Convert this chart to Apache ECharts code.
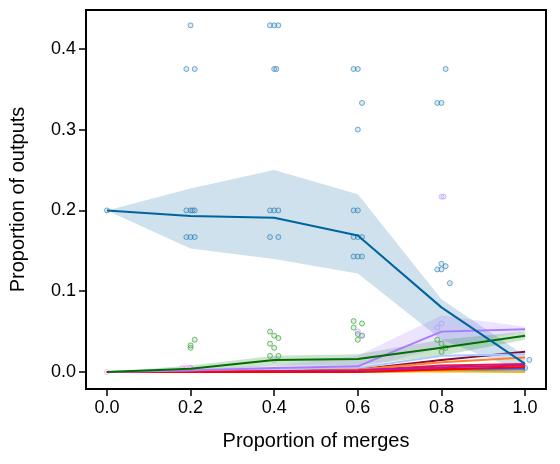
<!DOCTYPE html><html><head><meta charset="utf-8">
<script src="https://cdn.jsdelivr.net/npm/echarts@6/dist/echarts.min.js"></script>
<style>html,body{margin:0;background:#fff}#c{width:560px;height:464px}</style></head><body><div id="c"></div>
<script>
const xs=[0,0.2,0.4,0.6,0.8,1.0];
const blueMean=[0.2,0.193,0.191,0.169,0.08,0.01];
const blueLow=[0.2,0.153,0.14,0.122,0.04,0.0];
const blueHigh=[0.2,0.227,0.25,0.22,0.09,0.02];
const bluePts=[[0,0.2],[0.2,0.429],[0.19,0.375],[0.21,0.375],[0.19,0.2],[0.2,0.2],[0.205,0.2],[0.21,0.2],[0.19,0.167],[0.2,0.167],[0.21,0.167],
[0.39,0.429],[0.4,0.429],[0.41,0.429],[0.4,0.375],[0.405,0.375],[0.39,0.2],[0.4,0.2],[0.41,0.2],[0.39,0.167],[0.41,0.167],
[0.59,0.375],[0.6,0.375],[0.61,0.333],[0.6,0.3],[0.59,0.2],[0.6,0.2],[0.59,0.167],[0.6,0.167],[0.61,0.167],[0.59,0.143],[0.6,0.143],[0.61,0.143],
[0.81,0.375],[0.79,0.333],[0.8,0.333],[0.8,0.134],[0.81,0.131],[0.79,0.127],[0.8,0.127],[0.82,0.11],[1.0,0.005],[1.01,0.015]];
const greenMean=[0,0.004,0.015,0.016,0.03,0.045];
const greenLow=[0,0.0,0.008,0.008,0.02,0.04];
const greenHigh=[0,0.008,0.02,0.022,0.04,0.05];
const greenPts=[[0.21,0.04],[0.2,0.03],[0.2,0.033],[0.39,0.05],[0.4,0.045],[0.41,0.042],[0.39,0.035],[0.4,0.03],[0.41,0.02],[0.39,0.02],[0.59,0.063],[0.61,0.06],[0.59,0.055],[0.6,0.047],[0.61,0.045],[0.6,0.04],[0.79,0.04],[0.8,0.035],[0.81,0.03],[0.8,0.025]];
const purpleMean=[0,0.002,0.005,0.007,0.05,0.053];
const purpleLow=[0,0.0,0.002,0.003,0.03,0.05];
const purpleHigh=[0,0.004,0.008,0.02,0.07,0.056];
const purplePts=[[0.8,0.217],[0.805,0.217],[0.8,0.06],[0.79,0.055],[0.6,0.05],[0.61,0.045],[0.4,0.015],[0.2,0.005]];
const pinkPts=[[0.18,0.005],[0.19,0.005],[0.2,0.005],[0.0,0.0]];
const otherLines=[
 {c:'#8b0a3a',v:[0,0.0,0.002,0.003,0.015,0.025]},
 {c:'#aac8ff',v:[0,0.001,0.003,0.005,0.02,0.022]},
 {c:'#ff7f2a',v:[0,0.0,0.001,0.003,0.012,0.018]},
 {c:'#e6194b',v:[0,0.0,0.001,0.002,0.008,0.01]},
 {c:'#c71585',v:[0,0.0,0.001,0.002,0.006,0.008]},
 {c:'#8a2be2',v:[0,0.0,0.0,0.001,0.004,0.005]},
 {c:'#1e90ff',v:[0,0.0,0.0,0.0,0.002,0.003]},
 {c:'#ffb000',v:[0,0.0,0.0,0.0,0.001,0.0]},
 {c:'#ff0000',v:[0,0.0,0.0,0.0,0.003,0.006]}
];
const pair=a=>xs.map((x,i)=>[x,a[i]]);
function band(low,high,color){
 return {type:'custom',data:[[0,0]],silent:true,z:1,
  renderItem:(p,api)=>{
   const pts=xs.map((x,i)=>api.coord([x,high[i]])).concat(xs.slice().reverse().map((x,j)=>api.coord([x,low[xs.length-1-j]])));
   return {type:'polygon',shape:{points:pts},style:{fill:color}};
  }};
}
function pts(d,c,fill){return {type:'scatter',data:d,symbolSize:5,itemStyle:{color:fill,borderColor:c,borderWidth:1},z:3};}
const series=[band(blueLow,blueHigh,'rgba(31,119,170,0.22)'),band(greenLow,greenHigh,'rgba(0,120,0,0.2)'),band(purpleLow,purpleHigh,'rgba(160,120,255,0.2)'),
 pts(bluePts,'rgba(20,110,170,0.7)','rgba(120,180,220,0.35)'),pts(greenPts,'rgba(20,140,20,0.7)','rgba(120,200,120,0.3)'),
 pts(purplePts,'rgba(170,130,255,0.6)','rgba(200,180,255,0.3)'),pts(pinkPts,'rgba(255,120,255,0.6)','rgba(255,180,255,0.3)'),
 ...otherLines.map(o=>({type:'line',data:pair(o.v),symbol:'none',lineStyle:{color:o.c,width:2},z:4})),
 {type:'line',data:pair(purpleMean),symbol:'none',lineStyle:{color:'#a97cff',width:2},z:5},
 {type:'line',data:pair(greenMean),symbol:'none',lineStyle:{color:'#007000',width:2},z:5},
 {type:'line',data:pair(blueMean),symbol:'none',lineStyle:{color:'#00639e',width:2},z:6}];
const font='Liberation Sans';
echarts.init(document.getElementById('c')).setOption({animation:false,
 grid:{left:86,right:14,top:10,bottom:75,show:true,borderColor:'#000',borderWidth:2,backgroundColor:'transparent'},
 xAxis:{type:'value',min:-0.05,max:1.05,name:'Proportion of merges',nameLocation:'middle',nameGap:42,nameTextStyle:{fontSize:20,color:'#000',fontFamily:font},
  splitLine:{show:false},axisLine:{onZero:false,lineStyle:{color:'#000',width:2}},
  axisTick:{length:7,lineStyle:{color:'#000',width:1.5},customValues:[0,0.2,0.4,0.6,0.8,1.0]},
  axisLabel:{fontSize:18,color:'#000',fontFamily:font,margin:10,customValues:[0,0.2,0.4,0.6,0.8,1.0],formatter:v=>v.toFixed(1)}},
 yAxis:{type:'value',min:-0.021,max:0.448,name:'Proportion of outputs',nameLocation:'middle',nameGap:58,nameTextStyle:{fontSize:20,color:'#000',fontFamily:font},
  splitLine:{show:false},axisLine:{onZero:false,lineStyle:{color:'#000',width:2}},
  axisTick:{length:7,lineStyle:{color:'#000',width:1.5},customValues:[0,0.1,0.2,0.3,0.4]},
  axisLabel:{fontSize:18,color:'#000',fontFamily:font,margin:10,customValues:[0,0.1,0.2,0.3,0.4],formatter:v=>v.toFixed(1)}},
 series});
</script></body></html>
